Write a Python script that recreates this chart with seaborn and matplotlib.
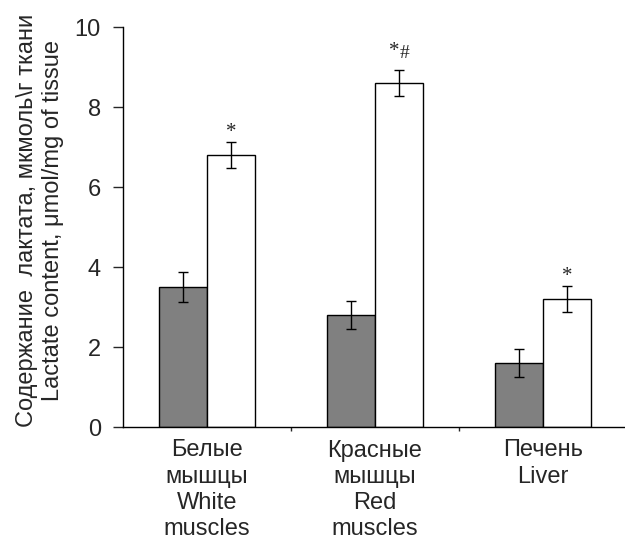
import matplotlib
matplotlib.use("Agg")
import matplotlib.pyplot as plt
import seaborn as sns
import pandas as pd
import numpy as np
from matplotlib.ticker import FixedLocator

categories = ["Белые\nмышцы\nWhite\nmuscles", "Красные\nмышцы\nRed\nmuscles", "Печень\nLiver"]
groups = ["control", "exercise"]
control_values = [3.5, 2.8, 1.6]
control_errors = [0.37, 0.36, 0.36]
exercise_values = [6.8, 8.6, 3.2]
exercise_errors = [0.33, 0.33, 0.33]
annot_labels = [["*"], ["*", "#"], ["*"]]
annot_heights = [7.25, 9.27, 3.65]
y_ticks = [0, 2, 4, 6, 8, 10]
y_label = "Содержание  лактата, мкмоль\\г ткани\nLactate content, μmol/mg of tissue"

sns.set_style("ticks")
plt.rcParams["font.family"] = ["Liberation Sans", "DejaVu Sans"]

df = pd.DataFrame({
    "cat": categories * 2,
    "grp": [groups[0]] * 3 + [groups[1]] * 3,
    "val": control_values + exercise_values,
})

fig = plt.figure(figsize=(6.25, 5.39), dpi=100)
ax = fig.add_axes([123 / 625, 112 / 539, 504 / 625, 400 / 539])

sns.barplot(data=df, x="cat", y="val", hue="grp", order=categories,
            hue_order=groups, palette=["#808080", "#ffffff"],
            edgecolor="black", linewidth=1.0, width=0.574,
            errorbar=None, legend=False, saturation=1, ax=ax)

errs = [control_errors, exercise_errors]
vals = [control_values, exercise_values]
bar_containers = list(ax.containers)
centers_white = []
for k, cont in enumerate(bar_containers):
    xs = [p.get_x() + p.get_width() / 2 for p in cont.patches]
    ax.errorbar(xs, vals[k], yerr=errs[k], fmt="none", ecolor="black",
                elinewidth=1.0, capsize=3.5, capthick=1.0, zorder=5)
    if k == 1:
        centers_white = xs

for i, x in enumerate(centers_white):
    labs = annot_labels[i]
    if len(labs) == 1:
        ax.text(x, annot_heights[i], labs[0], ha="center", va="baseline",
                fontsize=15, family="Liberation Serif")
    else:
        ax.text(x + 0.005, annot_heights[i], labs[0], ha="right", va="baseline",
                fontsize=15, family="Liberation Serif")
        ax.text(x + 0.005, annot_heights[i] - 0.05, labs[1], ha="left", va="baseline",
                fontsize=14, family="Liberation Serif")

ax.set_ylim(0, 10)
ax.set_xlim(-0.5, 2.5)
ax.set_yticks(y_ticks)
ax.set_yticklabels([str(t) for t in y_ticks], fontsize=17)
ax.set_xticks(range(len(categories)))
ax.set_xticklabels(categories, fontsize=17, linespacing=1.24)
ax.tick_params(axis="x", which="major", length=0, pad=9)
ax.xaxis.set_minor_locator(FixedLocator([0.5, 1.5]))
ax.tick_params(axis="x", which="minor", length=3, width=1, direction="out")
ax.tick_params(axis="y", length=7, width=1, direction="out", pad=9)
ax.set_xlabel("")
ax.set_ylabel(y_label, fontsize=17, linespacing=1.22)
ax.yaxis.set_label_coords(-0.118, 0.5175)

for s in ["top", "right"]:
    ax.spines[s].set_visible(False)
for s in ["left", "bottom"]:
    ax.spines[s].set_linewidth(1.0)
    ax.spines[s].set_color("black")

fig.savefig("out.png", dpi=100)
